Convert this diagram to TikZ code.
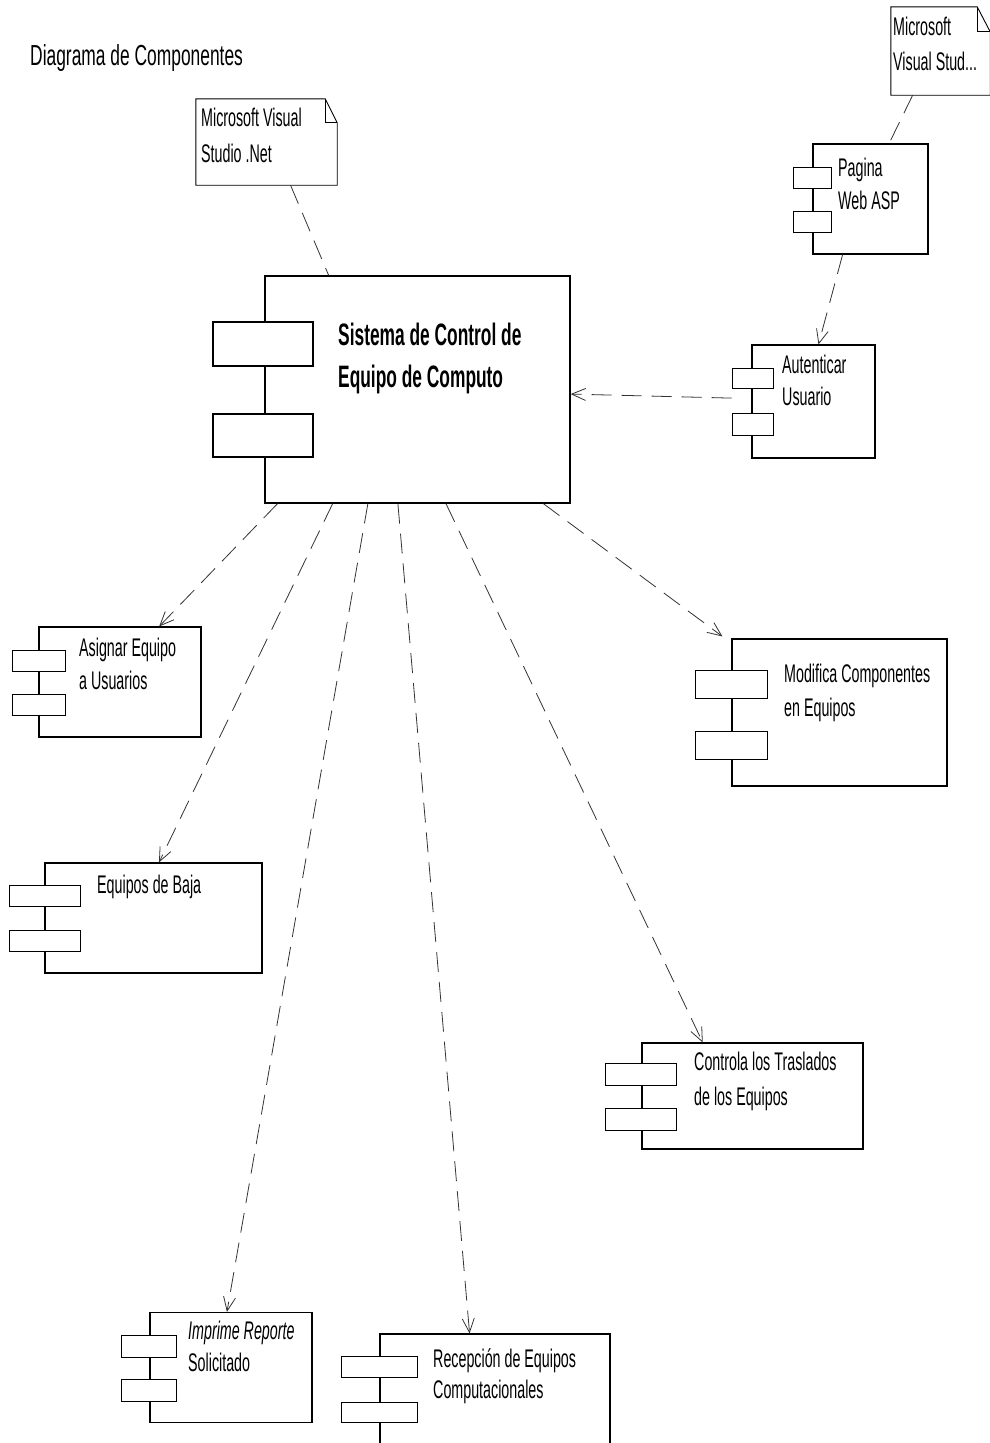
\documentclass[tikz,border=0pt]{standalone}
\usepackage{fontspec}
\setmainfont{Liberation Sans}
\newfontfamily\cf[FakeStretch=0.56]{Liberation Sans}
\newfontfamily\cft[FakeStretch=0.6]{Liberation Sans}
\usetikzlibrary{arrows.meta,calc}
\newcommand\twoln[3]{\vtop{\baselineskip=#3pt\hbox{#1}\hbox{#2}}}
\begin{document}
\begin{tikzpicture}[x=1pt,y=-1pt,
  body/.style={draw=black,line width=1.1pt,fill=white,inner sep=0pt},
  port/.style={draw=black,line width=1pt,fill=white,inner sep=0pt},
  notebox/.style={inner sep=0pt},
  noteline/.style={draw=black,line width=0.9pt},
  lbl/.style={anchor=base west,inner sep=0pt,font=\cf\fontsize{25.5}{33}\selectfont},
  dep/.style={draw=black!80,line width=0.8pt,dash pattern=on 20pt off 10pt,-{Straight Barb[length=14pt,width=12pt]}},
  lnk/.style={draw=black!80,line width=0.8pt,dash pattern=on 20pt off 10pt}]
\useasboundingbox (0,0) rectangle (989,1443);

% title
\node[anchor=base west,inner sep=0pt,font=\cft\fontsize{29}{29}\selectfont] (title) at (30,65) {Diagrama de Componentes};

% notes
\node[notebox,minimum width=141pt,minimum height=86pt] (note1) at (266.5,142) {};
\draw[noteline] (note1.north west) -- ($(note1.north east)+(-12,0)$) -- ($(note1.north east)+(0,24)$) -- (note1.south east) -- (note1.south west) -- cycle;
\draw[noteline] ($(note1.north east)+(-12,0)$) -- ++(0,24) -- ++(12,0);
\node[lbl] (note1t) at (201,126) {\twoln{Microsoft Visual}{Studio .Net}{36}};

\node[notebox,minimum width=99pt,minimum height=88pt] (note2) at (940.5,51) {};
\draw[noteline] (note2.north west) -- ($(note2.north east)+(-13,0)$) -- ($(note2.north east)+(0,25)$) -- (note2.south east) -- (note2.south west) -- cycle;
\draw[noteline] ($(note2.north east)+(-13,0)$) -- ++(0,25) -- ++(13,0);
\node[lbl] (note2t) at (893,35) {\twoln{Microsoft}{Visual Stud...}{35}};

% main component
\node[body,line width=1.3pt,minimum width=305pt,minimum height=227pt] (main) at (417.5,389.5) {};
\node[port,line width=1.2pt,minimum width=100pt,minimum height=44pt] (mainp1) at (263,344) {};
\node[port,line width=1.2pt,minimum width=100pt,minimum height=43pt] (mainp2) at (263,435.5) {};
\node[anchor=base west,inner sep=0pt,font=\cf\bfseries\fontsize{31}{42}\selectfont] (maint) at (338,345) {\twoln{Sistema de Control de}{Equipo de Computo}{42}};

% Pagina Web ASP
\node[body,minimum width=115pt,minimum height=110pt] (pag) at (870.5,199) {};
\node[port,minimum width=38pt,minimum height=21pt] (pagp1) at (812,177.5) {};
\node[port,minimum width=38pt,minimum height=21pt] (pagp2) at (812,221.5) {};
\node[lbl] (pagt) at (838,176) {\twoln{Pagina}{Web ASP}{33}};

% Autenticar Usuario
\node[body,minimum width=123pt,minimum height=113pt] (aut) at (813.5,401.5) {};
\node[port,minimum width=41pt,minimum height=20pt] (autp1) at (752.5,378) {};
\node[port,minimum width=41pt,minimum height=22pt] (autp2) at (752.5,424) {};
\node[lbl] (autt) at (782,373) {\twoln{Autenticar}{Usuario}{32}};

% Asignar Equipo
\node[body,minimum width=162pt,minimum height=110pt] (asg) at (120,682) {};
\node[port,minimum width=53pt,minimum height=21pt] (asgp1) at (38.5,660.5) {};
\node[port,minimum width=53pt,minimum height=21pt] (asgp2) at (38.5,704.5) {};
\node[lbl] (asgt) at (79,656) {\twoln{Asignar Equipo}{a Usuarios}{33}};

% Equipos de Baja
\node[body,minimum width=217pt,minimum height=110pt] (baja) at (153.5,918) {};
\node[port,minimum width=71pt,minimum height=21pt] (bajap1) at (44.5,895.5) {};
\node[port,minimum width=71pt,minimum height=21pt] (bajap2) at (44.5,940.5) {};
\node[lbl] (bajat) at (97,893) {Equipos de Baja};

% Modifica Componentes
\node[body,minimum width=215pt,minimum height=147pt] (mod) at (839.5,712.5) {};
\node[port,minimum width=72pt,minimum height=28pt] (modp1) at (731,684) {};
\node[port,minimum width=72pt,minimum height=28pt] (modp2) at (731,745) {};
\node[lbl] (modt) at (784,682) {\twoln{Modifica Componentes}{en Equipos}{34}};

% Controla los Traslados
\node[body,minimum width=221pt,minimum height=106pt] (ctl) at (752.5,1096) {};
\node[port,minimum width=71pt,minimum height=22pt] (ctlp1) at (640.5,1074) {};
\node[port,minimum width=71pt,minimum height=22pt] (ctlp2) at (640.5,1119) {};
\node[lbl] (ctlt) at (694,1070) {\twoln{Controla los Traslados}{de los Equipos}{35}};

% Imprime Reporte
\node[body,minimum width=162pt,minimum height=110pt] (imp) at (231,1367.5) {};
\node[port,minimum width=55pt,minimum height=22pt] (impp1) at (148.5,1346) {};
\node[port,minimum width=55pt,minimum height=22pt] (impp2) at (148.5,1390) {};
\node[lbl] (impt) at (188,1339) {\twoln{\itshape Imprime Reporte}{Solicitado}{32}};

% Recepcion
\node[body,minimum width=230pt,minimum height=136pt] (rec) at (495,1402) {};
\node[port,minimum width=76pt,minimum height=21pt] (recp1) at (379,1366.5) {};
\node[port,minimum width=76pt,minimum height=20pt] (recp2) at (379,1412) {};
\node[lbl] (rect) at (433,1367) {\twoln{Recepción de Equipos}{Computacionales}{31}};

% connectors
\draw[lnk] ($(note1.south west)!0.67!(note1.south east)$) -- ($(main.north west)!0.21!(main.north east)$);
\draw[lnk] ($(note2.south west)!0.22!(note2.south east)$) -- ($(pag.north west)!0.66!(pag.north east)$);
\draw[dep] ($(pag.south west)!0.26!(pag.south east)$) -- ($(aut.north west)!0.54!(aut.north east)$);
\draw[dep] ($(autp1.south west)!0.4!(autp2.north west)$) -- ($(main.north east)!0.52!(main.south east)$);
\draw[dep] ($(main.south west)!0.043!(main.south east)$) -- ($(asg.north west)!0.74!(asg.north east)$);
\draw[dep] ($(main.south west)!0.223!(main.south east)$) -- ($(baja.north west)!0.525!(baja.north east)$);
\draw[dep] ($(main.south west)!0.338!(main.south east)$) -- ($(imp.north west)!0.475!(imp.north east)$);
\draw[dep] ($(main.south west)!0.436!(main.south east)$) -- ($(rec.north west)!0.39!(rec.north east)$);
\draw[dep] ($(main.south west)!0.593!(main.south east)$) -- ($(ctl.north west)!0.276!(ctl.north east)$);
\draw[dep] ($(main.south west)!0.911!(main.south east)$) -- ($(mod.north west)+(-9,-2)$);
\end{tikzpicture}
\end{document}
